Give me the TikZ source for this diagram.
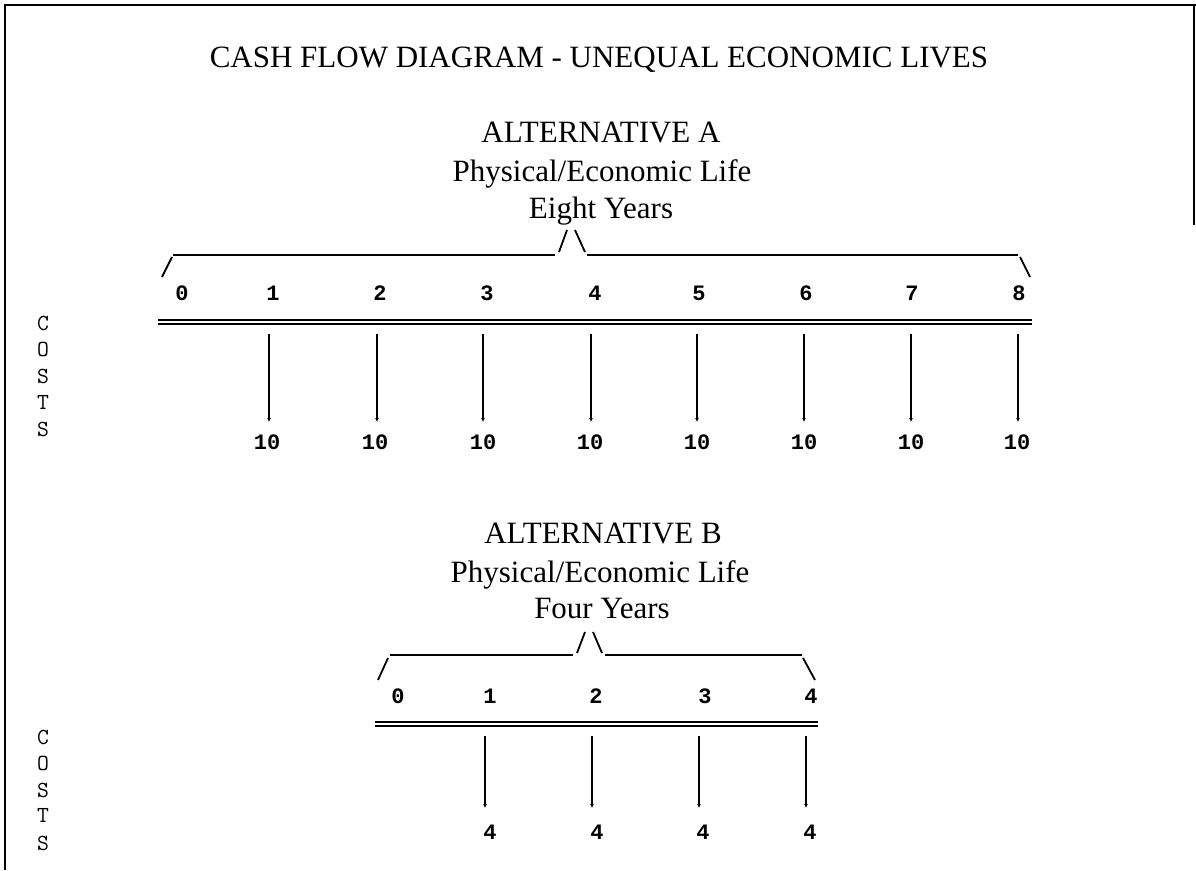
\documentclass[tikz,border=0pt]{standalone}
\usepackage{fontspec}
\setmainfont{Liberation Serif}
\newfontfamily\numfont{Liberation Mono}
\usetikzlibrary{arrows.meta}
\tikzset{
  serifhead/.style={font=\fontsize{31}{31}\selectfont, anchor=base, inner sep=0pt},
  yearnum/.style={font=\numfont\bfseries\fontsize{22}{22}\selectfont, anchor=base, inner sep=0pt},
  costlbl/.style={font=\numfont\bfseries\fontsize{22}{22}\selectfont, anchor=base, inner sep=0pt},
  costletter/.style={font=\ttfamily\fontsize{23}{23}\selectfont, anchor=base, inner sep=0pt},
  framestroke/.style={line width=2.2pt},
  bracestroke/.style={line width=1.8pt},
  timeline/.style={line width=1.8pt},
  costarrow/.style={line width=1.6pt, -{Latex[length=4pt,width=4pt]}}
}
\begin{document}
\begin{tikzpicture}[x=1pt,y=-1pt]
\useasboundingbox (0,0) rectangle (1196,870);
\fill[white] (0,0) rectangle (1196,870);
% frame
\coordinate (ftl) at (5,5);
\coordinate (ftr) at (1196,5);
\coordinate (fbl) at (5,870);
\coordinate (frt) at (1194,5);
\coordinate (frb) at (1194,225);
\draw[framestroke] (fbl) -- (ftl) -- (ftr);
\draw[framestroke] (frt) -- (frb);
% title
\node[serifhead] (title) at (599,67) {CASH FLOW DIAGRAM - UNEQUAL ECONOMIC LIVES};
% ---------------- Alternative A
\node[serifhead] (altA) at (601,142) {ALTERNATIVE A};
\node[serifhead] (lifeA) at (602,181) {Physical/Economic Life};
\node[serifhead] (yrsA) at (601,218) {Eight Years};
% brace A
\coordinate (bAl1) at (162,277); \coordinate (bAl2) at (172,257);
\coordinate (bAl3) at (173,255); \coordinate (bAl4) at (555,255);
\coordinate (bAp1) at (559,252); \coordinate (bAp2) at (567,230);
\coordinate (bAp3) at (575,230); \coordinate (bAp4) at (585,252);
\coordinate (bAr1) at (587,255); \coordinate (bAr2) at (1018,255);
\coordinate (bAr3) at (1020,257); \coordinate (bAr4) at (1030,277);
\draw[bracestroke] (bAl1) -- (bAl2);
\draw[bracestroke] (bAl3) -- (bAl4);
\draw[bracestroke] (bAp1) -- (bAp2);
\draw[bracestroke] (bAp3) -- (bAp4);
\draw[bracestroke] (bAr1) -- (bAr2);
\draw[bracestroke] (bAr3) -- (bAr4);
% year numbers A
\foreach \n/\x in {0/182,1/273,2/380,3/487,4/595,5/699,6/806,7/912,8/1019}
  \node[yearnum] (yA\n) at (\x,300) {\n};
% double line A
\coordinate (dA1) at (158,320); \coordinate (dA2) at (1032,320);
\coordinate (dA3) at (158,324); \coordinate (dA4) at (1032,324);
\draw[timeline] (dA1) -- (dA2);
\draw[timeline] (dA3) -- (dA4);
% cost arrows A
\foreach \i/\x/\lx in {1/269/267,2/377/375,3/483/483,4/591/590,5/697/697,6/804/804,7/911/911,8/1018/1017}{
  \coordinate (cAt\i) at (\x,334);
  \coordinate (cAb\i) at (\x,422);
  \draw[costarrow] (cAt\i) -- (cAb\i);
  \node[costlbl] (cAl\i) at (\lx,449) {10};
}
% COSTS A
\foreach \c/\y [count=\k] in {C/330,O/356,S/383,T/409,S/436}
  \node[costletter] (costA\k) at (43,\y) {\c};
% ---------------- Alternative B
\node[serifhead] (altB) at (603,543) {ALTERNATIVE B};
\node[serifhead] (lifeB) at (600,582) {Physical/Economic Life};
\node[serifhead] (yrsB) at (602,618) {Four Years};
% brace B
\coordinate (bBl1) at (378,680); \coordinate (bBl2) at (388,658);
\coordinate (bBl3) at (390,655); \coordinate (bBl4) at (573,655);
\coordinate (bBp1) at (577,653); \coordinate (bBp2) at (585,632);
\coordinate (bBp3) at (593,632); \coordinate (bBp4) at (602,653);
\coordinate (bBr1) at (605,655); \coordinate (bBr2) at (802,655);
\coordinate (bBr3) at (803,658); \coordinate (bBr4) at (815,680);
\draw[bracestroke] (bBl1) -- (bBl2);
\draw[bracestroke] (bBl3) -- (bBl4);
\draw[bracestroke] (bBp1) -- (bBp2);
\draw[bracestroke] (bBp3) -- (bBp4);
\draw[bracestroke] (bBr1) -- (bBr2);
\draw[bracestroke] (bBr3) -- (bBr4);
% year numbers B
\foreach \n/\x in {0/398,1/490,2/596,3/705,4/811}
  \node[yearnum] (yB\n) at (\x,703) {\n};
% double line B
\coordinate (dB1) at (375,722); \coordinate (dB2) at (818,722);
\coordinate (dB3) at (375,726); \coordinate (dB4) at (818,726);
\draw[timeline] (dB1) -- (dB2);
\draw[timeline] (dB3) -- (dB4);
% cost arrows B
\foreach \i/\x/\lx in {1/485/490,2/592/597,3/699/703,4/806/810}{
  \coordinate (cBt\i) at (\x,736);
  \coordinate (cBb\i) at (\x,808);
  \draw[costarrow] (cBt\i) -- (cBb\i);
  \node[costlbl] (cBl\i) at (\lx,839) {4};
}
% COSTS B
\foreach \c/\y [count=\k] in {C/744,O/770,S/797,T/822,S/850}
  \node[costletter] (costB\k) at (43,\y) {\c};
\end{tikzpicture}
\end{document}
